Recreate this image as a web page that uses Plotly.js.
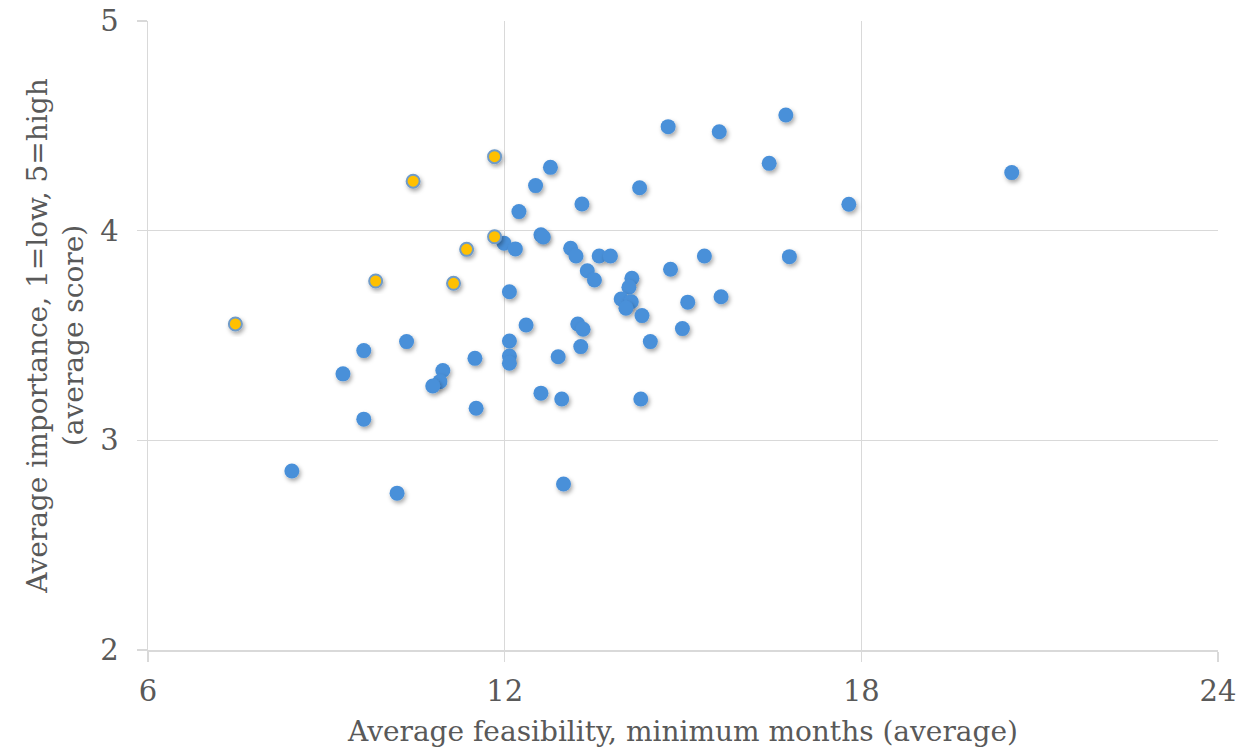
<!DOCTYPE html>
<html>
<head>
<meta charset="utf-8">
<script src="https://cdn.plot.ly/plotly-3.0.1.min.js"></script>
<style>
  html, body { margin: 0; padding: 0; background: #ffffff; }
  #chart { width: 1242px; height: 753px; }
</style>
</head>
<body>
<div id="chart"></div>
<script>
// Blue series: feasibility (months) vs importance (score)
const blueMonths = [12.77, 12.52, 12.24, 13.30, 11.99, 12.18, 12.61, 12.65, 13.11, 13.20,
  13.59, 13.78, 13.39, 13.51, 12.08, 12.36, 13.23, 13.32, 12.08, 13.28,
  10.35, 9.63, 12.08, 12.08, 11.50, 12.90, 10.96, 9.28, 10.91, 10.79,
  9.63, 11.52, 12.61, 12.96, 14.29, 8.42, 10.19, 12.99, 14.75, 15.61,
  16.73, 16.45, 17.79, 14.27, 20.53, 14.14, 14.09, 13.96, 14.13, 14.04,
  14.31, 14.79, 15.36, 16.79, 15.08, 15.64, 14.99, 14.45];
const blueScore = [4.302, 4.215, 4.091, 4.127, 3.940, 3.913, 3.980, 3.970, 3.916, 3.879,
  3.879, 3.879, 3.809, 3.765, 3.709, 3.550, 3.555, 3.530, 3.474, 3.447,
  3.471, 3.428, 3.402, 3.368, 3.391, 3.399, 3.333, 3.317, 3.280, 3.259,
  3.101, 3.153, 3.225, 3.197, 3.197, 2.854, 2.748, 2.792, 4.496, 4.472,
  4.552, 4.321, 4.126, 4.205, 4.277, 3.773, 3.730, 3.674, 3.661, 3.630,
  3.595, 3.816, 3.879, 3.876, 3.659, 3.685, 3.533, 3.471];

// Yellow (highlighted) series
const yellowMonths = [11.83, 10.46, 11.83, 11.36, 9.83, 11.14, 7.47];
const yellowScore = [4.353, 4.236, 3.971, 3.911, 3.760, 3.749, 3.555];

// Axis ticks
const xTicks = [6, 12, 18, 24];
const yTicks = [2, 3, 4, 5];

const xTitle = 'Average feasibility, minimum months (average)';
const yTitle = 'Average importance, 1=low, 5=high<br>(average score)';

const traces = [
  {
    type: 'scatter', mode: 'markers',
    x: blueMonths, y: blueScore,
    marker: { color: '#4a90d9', size: 15, line: { width: 0 } },
    hoverinfo: 'x+y', showlegend: false
  },
  {
    type: 'scatter', mode: 'markers',
    x: yellowMonths, y: yellowScore,
    marker: { color: '#ffc000', size: 13, line: { color: '#6f9bc8', width: 2 } },
    hoverinfo: 'x+y', showlegend: false
  }
];

const serif = 'DejaVu Serif';
const axisFont = { family: serif, size: 29, color: '#595959' };
const titleFont = { family: serif, size: 28, color: '#595959' };

const layout = {
  width: 1242, height: 753,
  font: { family: serif },
  margin: { l: 148, r: 24, t: 21, b: 103 },
  paper_bgcolor: '#ffffff', plot_bgcolor: '#ffffff',
  showlegend: false,
  xaxis: {
    range: [6, 24], tickvals: xTicks, ticktext: xTicks.map(String),
    showgrid: true, gridcolor: '#d9d9d9', gridwidth: 1.5,
    zeroline: false, showline: true, linecolor: '#d9d9d9', linewidth: 1.5,
    ticks: 'outside', ticklen: 10, tickcolor: '#d9d9d9', tickwidth: 1.5,
    ticklabelstandoff: 5,
    tickfont: axisFont,
    title: { text: xTitle, font: titleFont, standoff: 14 },
    automargin: false,
    fixedrange: true
  },
  yaxis: {
    range: [2, 5], tickvals: yTicks, ticktext: yTicks.map(String),
    showgrid: true, gridcolor: '#d9d9d9', gridwidth: 1.5,
    zeroline: false, showline: true, linecolor: '#d9d9d9', linewidth: 1.5,
    ticks: 'outside', ticklen: 10, tickcolor: '#d9d9d9', tickwidth: 1.5,
    ticklabelstandoff: 12,
    tickfont: axisFont,
    title: { text: yTitle, font: titleFont, standoff: 8 },
    automargin: false,
    fixedrange: true
  }
};

Plotly.newPlot('chart', traces, layout, { displayModeBar: false, staticPlot: true }).then(function (gd) {
  // soft drop shadow on markers, like the original
  const svgNS = 'http://www.w3.org/2000/svg';
  const svg = gd.querySelector('svg.main-svg');
  let defs = svg.querySelector('defs');
  if (!defs) { defs = document.createElementNS(svgNS, 'defs'); svg.insertBefore(defs, svg.firstChild); }
  const filter = document.createElementNS(svgNS, 'filter');
  filter.setAttribute('id', 'mkshadow');
  filter.setAttribute('x', '-50%'); filter.setAttribute('y', '-50%');
  filter.setAttribute('width', '200%'); filter.setAttribute('height', '200%');
  const ds = document.createElementNS(svgNS, 'feDropShadow');
  ds.setAttribute('dx', '1.5'); ds.setAttribute('dy', '2.5');
  ds.setAttribute('stdDeviation', '2');
  ds.setAttribute('flood-color', '#000000'); ds.setAttribute('flood-opacity', '0.35');
  filter.appendChild(ds);
  defs.appendChild(filter);
  gd.querySelectorAll('.scatterlayer .trace .points path').forEach(function (p) {
    p.setAttribute('filter', 'url(#mkshadow)');
  });
});
</script>
</body>
</html>
